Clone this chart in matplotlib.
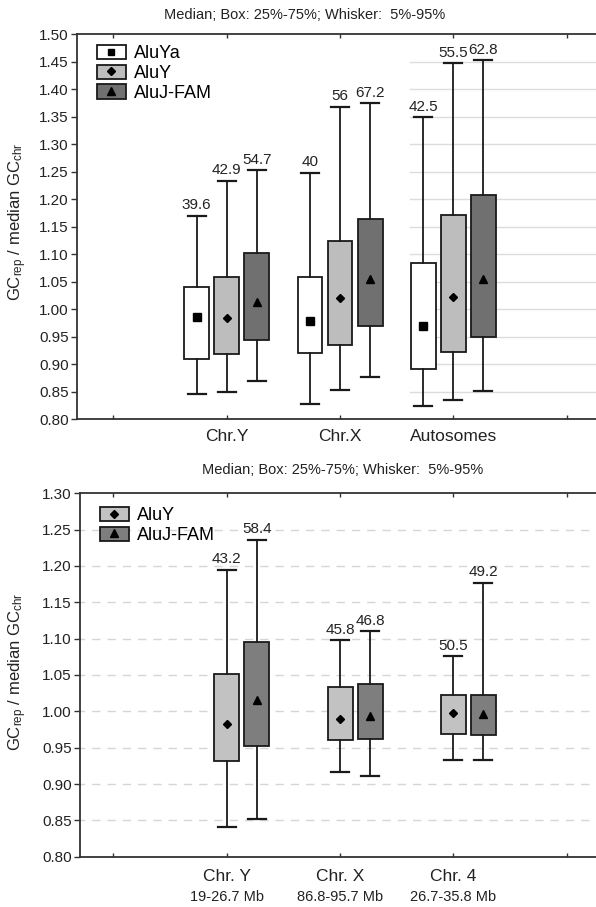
import numpy as np
import matplotlib
matplotlib.use("Agg")
import matplotlib.pyplot as plt
from matplotlib.patches import Patch
from matplotlib.lines import Line2D
from matplotlib.legend_handler import HandlerTuple

plt.rcParams['font.family'] = ['Liberation Sans', 'DejaVu Sans']

# ---------------- data: top panel ----------------
top_categories = ["Chr.Y", "Chr.X", "Autosomes"]
top_series = ["AluYa", "AluY", "AluJ-FAM"]
# rows = series, columns = categories
top_p95 = [[1.170, 1.248, 1.349], [1.234, 1.368, 1.447], [1.253, 1.375, 1.453]]
top_q3 = [[1.040, 1.059, 1.084], [1.059, 1.124, 1.171], [1.103, 1.165, 1.208]]
top_med = [[0.986, 0.979, 0.970], [0.984, 1.021, 1.023], [1.013, 1.055, 1.055]]
top_q1 = [[0.910, 0.921, 0.892], [0.919, 0.935, 0.922], [0.945, 0.970, 0.949]]
top_p5 = [[0.846, 0.827, 0.824], [0.849, 0.854, 0.836], [0.870, 0.877, 0.851]]
top_labels = [["39.6", "40", "42.5"], ["42.9", "56", "55.5"], ["54.7", "67.2", "62.8"]]

# ---------------- data: bottom panel ----------------
bot_categories = ["Chr. Y", "Chr. X", "Chr. 4"]
bot_regions = ["19-26.7 Mb", "86.8-95.7 Mb", "26.7-35.8 Mb"]
bot_series = ["AluY", "AluJ-FAM"]
bot_p95 = [[1.195, 1.098, 1.076], [1.236, 1.110, 1.177]]
bot_q3 = [[1.052, 1.034, 1.022], [1.096, 1.037, 1.023]]
bot_med = [[0.982, 0.990, 0.998], [1.016, 0.994, 0.996]]
bot_q1 = [[0.931, 0.960, 0.969], [0.952, 0.962, 0.967]]
bot_p5 = [[0.841, 0.917, 0.933], [0.852, 0.911, 0.933]]
bot_labels = [["43.2", "45.8", "50.5"], ["58.4", "46.8", "49.2"]]

subtitle = "Median; Box: 25%-75%; Whisker:  5%-95%"
ylabel = r"GC$\mathregular{_{rep}}$ / median GC$\mathregular{_{chr}}$"

W, H = 596, 907
fig = plt.figure(figsize=(W / 100, H / 100), dpi=100)
TXT = '#222222'


def px_axes(left, top, right, bottom):
    return fig.add_axes([left / W, 1 - bottom / H, (right - left) / W, (bottom - top) / H])


def draw_panel(ax, cats, series, p5, q1, med, q3, p95, labels, colors, markers,
               msizes, offsets, ylim, yticks, grid_style):
    ncat = len(cats)
    xpos = np.arange(1, ncat + 1)
    for s in range(len(series)):
        stats = []
        for c in range(ncat):
            stats.append(dict(med=med[s][c], q1=q1[s][c], q3=q3[s][c],
                              whislo=p5[s][c], whishi=p95[s][c], fliers=[]))
        pos = xpos + offsets[s]
        ax.bxp(stats, positions=pos, widths=0.22, capwidths=0.16,
               patch_artist=True, showfliers=False, manage_ticks=False,
               boxprops=dict(facecolor=colors[s], edgecolor='#1a1a1a', linewidth=1.3),
               whiskerprops=dict(color='#1a1a1a', linewidth=1.3),
               capprops=dict(color='#1a1a1a', linewidth=1.6),
               medianprops=dict(linewidth=0), zorder=3)
        ax.plot(pos, med[s], linestyle='none', marker=markers[s], color='black',
                markersize=msizes[s], zorder=4)
        for c in range(ncat):
            ax.annotate(labels[s][c], (pos[c], p95[s][c]), xytext=(0, 2.5),
                        textcoords='offset points', ha='center', va='bottom',
                        fontsize=11, color=TXT, zorder=5)
    ax.set_ylim(*ylim)
    ax.set_yticks(yticks)
    ax.set_yticklabels([f"{v:.2f}" for v in yticks], fontsize=11, color=TXT)
    ax.set_xticks(np.arange(0, ncat + 2))
    ax.set_xticklabels([''] * (ncat + 2))
    ax.tick_params(axis='x', direction='in', length=3, top=True, width=1, color='#333333')
    ax.tick_params(axis='y', direction='out', length=4, width=1, color='#333333', pad=2)
    for sp in ['left', 'top', 'bottom']:
        ax.spines[sp].set_linewidth(1.3)
        ax.spines[sp].set_color('#333333')
    ax.spines['right'].set_visible(False)
    gx0, gstyle, gcol = grid_style
    for v in yticks[1:-1]:
        ax.plot([gx0, 10], [v, v], color=gcol, linestyle=gstyle, linewidth=1.0, zorder=1)
    return xpos


# ---------------- top panel ----------------
top_colors = ['#ffffff', '#bdbdbd', '#707070']
ax1 = px_axes(77, 34.3, 596, 419.3)
ax1.set_xlim(-0.321, 4.259)
xpos1 = draw_panel(ax1, top_categories, top_series, top_p5, top_q1, top_med, top_q3, top_p95,
                   top_labels, top_colors, ['s', 'D', '^'], [5.5, 4.5, 5.5],
                   [-0.265, 0.0, 0.265], (0.80, 1.50), np.round(np.arange(0.80, 1.501, 0.05), 2),
                   (2.62, '-', '#dcdcdc'))
for x, lab in zip(xpos1, top_categories):
    ax1.text(x, -0.045, lab, transform=ax1.get_xaxis_transform(), ha='center', va='center',
             fontsize=12.5, color=TXT)
fig.text(18 / W, 1 - 222 / H, ylabel, rotation=90, ha='center', va='center', fontsize=12,
         color=TXT)
fig.text(305 / W, 1 - 15 / H, subtitle, ha='center', va='center', fontsize=10.5, color=TXT)

h1 = [(Patch(facecolor=c, edgecolor='#1a1a1a', linewidth=1.3),
       Line2D([], [], linestyle='none', marker=m, color='black', markersize=ms))
      for c, m, ms in zip(top_colors, ['s', 'D', '^'], [5, 4.5, 5.5])]
ax1.legend(h1, top_series, handler_map={tuple: HandlerTuple(ndivide=1)},
           loc='upper left', bbox_to_anchor=(97 / W, 1 - 45 / H), bbox_transform=fig.transFigure,
           frameon=False, fontsize=13, handlelength=1.6, handleheight=0.85,
           labelspacing=0.12, handletextpad=0.45, borderpad=0, borderaxespad=0)

# ---------------- bottom panel ----------------
bot_colors = ['#c2c2c2', '#7e7e7e']
ax2 = px_axes(80, 493.3, 596, 856.7)
ax2.set_xlim(-0.295, 4.259)
xpos2 = draw_panel(ax2, bot_categories, bot_series, bot_p5, bot_q1, bot_med, bot_q3, bot_p95,
                   bot_labels, bot_colors, ['D', '^'], [4.5, 5.5],
                   [0.0, 0.265], (0.80, 1.30), np.round(np.arange(0.80, 1.301, 0.05), 2),
                   (-1, (0, (6, 5)), '#d6d6d6'))
for x, lab, reg in zip(xpos2, bot_categories, bot_regions):
    ax2.text(x, -0.055, lab, transform=ax2.get_xaxis_transform(), ha='center', va='center',
             fontsize=12.5, color=TXT)
    ax2.text(x, -0.11, reg, transform=ax2.get_xaxis_transform(), ha='center', va='center',
             fontsize=10.5, color=TXT)
fig.text(18 / W, 1 - 672 / H, ylabel, rotation=90, ha='center', va='center', fontsize=12,
         color=TXT)
fig.text(343 / W, 1 - 470 / H, subtitle, ha='center', va='center', fontsize=10.5, color=TXT)

h2 = [(Patch(facecolor=c, edgecolor='#1a1a1a', linewidth=1.3),
       Line2D([], [], linestyle='none', marker=m, color='black', markersize=ms))
      for c, m, ms in zip(bot_colors, ['D', '^'], [4.5, 5.5])]
ax2.legend(h2, bot_series, handler_map={tuple: HandlerTuple(ndivide=1)},
           loc='upper left', bbox_to_anchor=(100 / W, 1 - 507 / H), bbox_transform=fig.transFigure,
           frameon=False, fontsize=13, handlelength=1.6, handleheight=0.85,
           labelspacing=0.12, handletextpad=0.45, borderpad=0, borderaxespad=0)

fig.savefig("out.png", dpi=100, facecolor='white')
